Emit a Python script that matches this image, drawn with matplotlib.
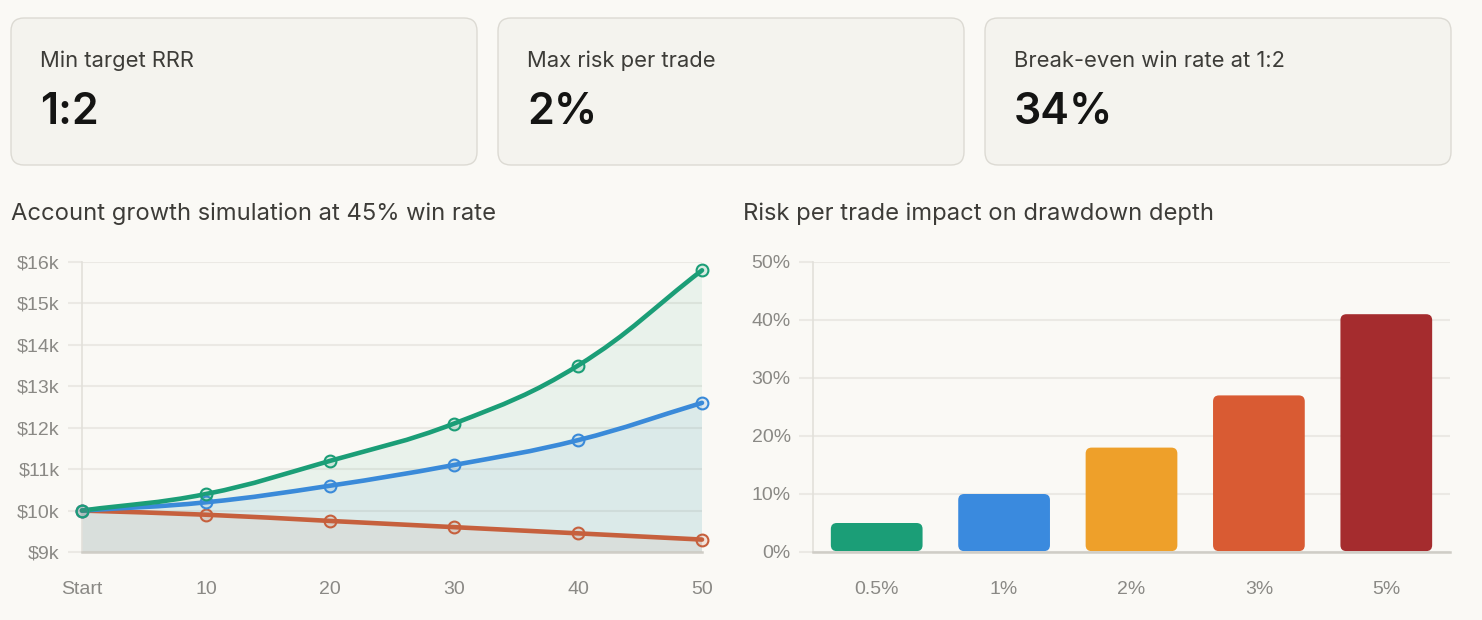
import matplotlib
matplotlib.use("Agg")
import matplotlib.pyplot as plt
import numpy as np
from matplotlib.patches import FancyBboxPatch, PathPatch
from matplotlib.path import Path

# ── data ─────────────────────────────────────────────────────────────────
card_labels = ["Min target RRR", "Max risk per trade", "Break-even win rate at 1:2"]
card_values = ["1:2", "2%", "34%"]

growth_ticks = ["Start", "10", "20", "30", "40", "50"]
growth_high = [10000, 10400, 11200, 12100, 13500, 15800]
growth_mid = [10000, 10200, 10600, 11100, 11700, 12600]
growth_low = [10000, 9900, 9750, 9600, 9450, 9300]

risk_labels = ["0.5%", "1%", "2%", "3%", "5%"]
drawdown = [5, 10, 18, 27, 41]

BG = "#faf9f5"
CARD = "#f4f3ee"
CARD_EDGE = "#dcdad3"
GRID = "#ebe9e4"
TICK = "#8a8985"
GREEN = "#1b9e77"
BLUE = "#3a8ad9"
RED = "#c6603d"
BAR_COLORS = ["#1b9e77", "#3a8ade", "#eea02a", "#d95b33", "#a52c2e"]

W, H = 1482, 620
UI_FONT = ["Inter", "DejaVu Sans"]
AX_FONT = ["Liberation Sans", "DejaVu Sans"]


def rect(x0, y0, x1, y1):
    """pixel box (top-left origin) -> figure fraction rect"""
    return [x0 / W, 1 - y1 / H, (x1 - x0) / W, (y1 - y0) / H]


def smooth_path(ax, xs, ys, tension=0.4):
    # Chart.js style spline, control points computed in screen space
    pts = ax.transData.transform(np.column_stack([xs, ys]))
    n = len(pts)
    verts = [pts[0]]
    codes = [Path.MOVETO]
    ctrl_prev, ctrl_next = [], []
    for i in range(n):
        p0 = pts[max(i - 1, 0)]
        p1 = pts[i]
        p2 = pts[min(i + 1, n - 1)]
        d01 = np.hypot(*(p1 - p0))
        d12 = np.hypot(*(p2 - p1))
        tot = d01 + d12 if d01 + d12 > 0 else 1
        fa = tension * d01 / tot
        fb = tension * d12 / tot
        ctrl_prev.append(p1 - fa * (p2 - p0))
        ctrl_next.append(p1 + fb * (p2 - p0))
    for i in range(n - 1):
        verts += [ctrl_next[i], ctrl_prev[i + 1], pts[i + 1]]
        codes += [Path.CURVE4] * 3
    inv = ax.transData.inverted()
    return inv.transform(np.array(verts)), codes


fig = plt.figure(figsize=(W / 100, H / 100), dpi=100, facecolor=BG)

# overlay in pixel units for cards and headings
bg = fig.add_axes([0, 0, 1, 1], zorder=0)
bg.set_xlim(0, W)
bg.set_ylim(H, 0)
bg.axis("off")

card_x = [11, 498, 985]
for cx, lab, val in zip(card_x, card_labels, card_values):
    bg.add_patch(FancyBboxPatch((cx, 18), 466, 147,
                                boxstyle="round,pad=0,rounding_size=13",
                                facecolor=CARD, edgecolor=CARD_EDGE, linewidth=1))
    bg.text(cx + 29, 61, lab, fontsize=15.8, color="#3d3c38", family=UI_FONT,
            ha="left", va="center")
    bg.text(cx + 29, 112, val, fontsize=31, color="#141413", family=UI_FONT,
            weight="semibold", ha="left", va="center")

bg.text(11, 214, "Account growth simulation at 45% win rate", fontsize=17.1,
        color="#3d3c38", family=UI_FONT, ha="left", va="center")
bg.text(743, 214, "Risk per trade impact on drawdown depth", fontsize=17.1,
        color="#3d3c38", family=UI_FONT, ha="left", va="center")


def style_axes(ax):
    ax.set_facecolor("none")
    ax.grid(axis="y", color=GRID, linewidth=1.5, zorder=0)
    ax.set_axisbelow(True)
    for s in ("top", "right"):
        ax.spines[s].set_visible(False)
    ax.spines["left"].set_color("#e2e0da")
    ax.spines["left"].set_linewidth(1.2)
    ax.spines["bottom"].set_color("#cfcdc6")
    ax.spines["bottom"].set_linewidth(1.8)
    ax.tick_params(axis="y", length=10, width=1.5, color=GRID, pad=6,
                   labelsize=14, labelcolor=TICK)
    ax.tick_params(axis="x", length=0, pad=21, labelsize=14, labelcolor=TICK)
    for lbl in ax.get_xticklabels() + ax.get_yticklabels():
        lbl.set_family(AX_FONT)


# ── left: account growth ─────────────────────────────────────────────────
ax1 = fig.add_axes(rect(82, 262, 702, 552), zorder=1)
x = np.arange(len(growth_ticks))
ax1.set_xlim(0, len(growth_ticks) - 1)
ax1.set_ylim(9000, 16000)
ax1.set_yticks(range(9000, 16001, 1000))
ax1.set_yticklabels([f"${v // 1000}k" for v in range(9000, 16001, 1000)])
ax1.set_xticks(x)
ax1.set_xticklabels(growth_ticks)
style_axes(ax1)
fig.canvas.draw()

for ys, col in ((growth_high, GREEN), (growth_mid, BLUE), (growth_low, RED)):
    verts, codes = smooth_path(ax1, x, ys)
    fill_verts = np.vstack([verts, [[x[-1], 9000], [x[0], 9000], verts[0]]])
    fill_codes = codes + [Path.LINETO, Path.LINETO, Path.CLOSEPOLY]
    ax1.add_patch(PathPatch(Path(fill_verts, fill_codes), facecolor=col,
                            alpha=0.075, edgecolor="none", zorder=1))

for ys, col in ((growth_low, RED), (growth_mid, BLUE), (growth_high, GREEN)):
    verts, codes = smooth_path(ax1, x, ys)
    ax1.add_patch(PathPatch(Path(verts, codes), facecolor="none", edgecolor=col,
                            linewidth=3.3, capstyle="round", zorder=3,
                            clip_on=False))
    ax1.plot(x, ys, "o", markersize=8.5, markeredgewidth=1.5,
             markeredgecolor=col, markerfacecolor=matplotlib.colors.to_rgba(col, 0.15),
             zorder=4, clip_on=False)

# ── right: drawdown bars ─────────────────────────────────────────────────
ax2 = fig.add_axes(rect(813, 262, 1450, 552), zorder=1)
xb = np.arange(len(risk_labels))
ax2.set_xlim(-0.5, len(risk_labels) - 0.5)
ax2.set_ylim(0, 50)
ax2.set_yticks(range(0, 51, 10))
ax2.set_yticklabels([f"{v}%" for v in range(0, 51, 10)])
ax2.set_xticks(xb)
ax2.set_xticklabels(risk_labels)
style_axes(ax2)

bar_w = 0.72
bars = ax2.bar(xb, drawdown, width=bar_w, color=BAR_COLORS, zorder=2)
# swap plain bars for rounded ones (6px corner radius)
px_x = 637 / len(risk_labels)
px_y = 290 / 50
r = 6 / px_x
for b, col in zip(bars, BAR_COLORS):
    b.set_visible(False)
    ax2.add_patch(FancyBboxPatch((b.get_x(), 0.15), b.get_width(), b.get_height() - 0.15,
                                 boxstyle=f"round,pad=0,rounding_size={r}",
                                 mutation_aspect=px_x / px_y,
                                 facecolor=col, edgecolor="none", zorder=2))

fig.savefig("out.png", dpi=100, facecolor=BG)
